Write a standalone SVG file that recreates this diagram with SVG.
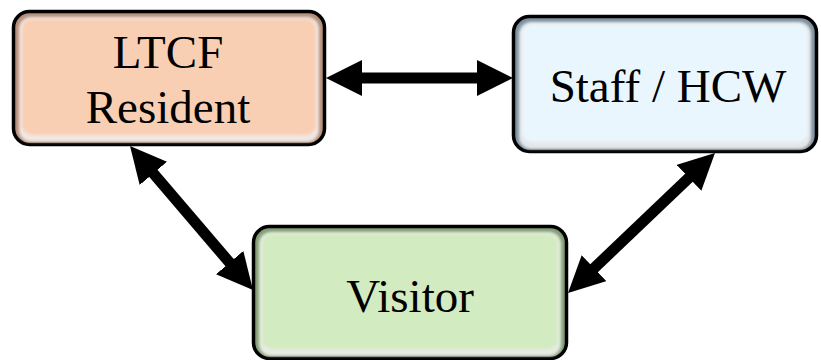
<svg xmlns="http://www.w3.org/2000/svg" width="821" height="360" viewBox="0 0 821 360">
  <defs>
    <filter id="soft" x="-5%" y="-5%" width="110%" height="110%">
      <feGaussianBlur stdDeviation="1.6"/>
    </filter>
    <marker id="head" markerUnits="userSpaceOnUse" markerWidth="36" markerHeight="36" viewBox="0 0 36 36" refX="16" refY="18" orient="auto-start-reverse">
      <path d="M0,0 L36,18 L0,36 z" fill="#000"/>
    </marker>
  </defs>
  <style>
    .frame { stroke: #000; stroke-width: 3.5; }
    .hl { fill: #ffffff; opacity: 0.8; filter: url(#soft); }
    .label { font-family: "Liberation Serif", "Times New Roman", serif; font-size: 47px; fill: #000; text-anchor: middle; }
    .conn line { stroke: #000; stroke-width: 11; fill: none; marker-start: url(#head); marker-end: url(#head); }
  </style>
  <rect width="821" height="360" fill="#ffffff"/>

  <g id="node-ltcf">
    <rect class="frame" x="13.5" y="11.5" width="311" height="133" rx="16" fill="#B48E79"/>
    <rect class="hl" x="19" y="17" width="300" height="125" rx="12"/>
    <rect x="22" y="19" width="294" height="116" rx="10" fill="#F9CFB3" filter="url(#soft)"/>
    <text class="label" x="168" y="68">LTCF</text>
    <text class="label" x="168" y="123">Resident</text>
  </g>

  <g id="node-staff">
    <rect class="frame" x="513.5" y="16.5" width="303" height="135" rx="16" fill="#7F909E"/>
    <rect class="hl" x="519" y="22" width="292" height="127" rx="12"/>
    <rect x="522" y="24" width="286" height="118" rx="10" fill="#EAF6FD" filter="url(#soft)"/>
    <text class="label" x="668" y="102">Staff / HCW</text>
  </g>

  <g id="node-visitor">
    <rect class="frame" x="253.5" y="226.5" width="313" height="132" rx="16" fill="#839D75"/>
    <rect class="hl" x="259" y="232" width="302" height="124" rx="12"/>
    <rect x="262" y="234" width="296" height="115" rx="10" fill="#D3EBC1" filter="url(#soft)"/>
    <text class="label" x="410" y="312">Visitor</text>
  </g>

  <g id="connectors" class="conn">
    <line x1="346" y1="78" x2="493" y2="78"/>
    <line x1="143" y1="161.2" x2="240" y2="274.8"/>
    <line x1="700.5" y1="166.8" x2="582.5" y2="279.2"/>
  </g>
</svg>
